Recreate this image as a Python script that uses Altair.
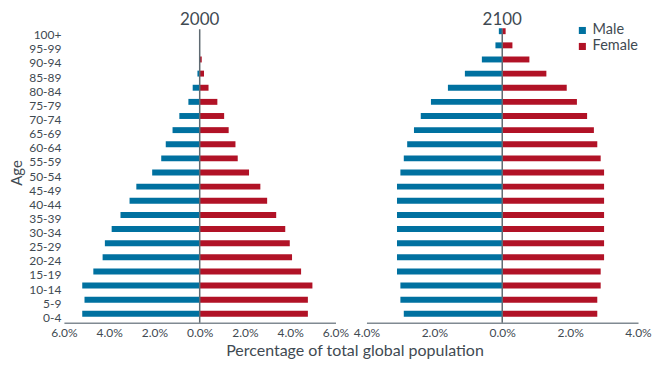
import altair as alt
import pandas as pd

ages = ["0-4", "5-9", "10-14", "15-19", "20-24", "25-29", "30-34", "35-39",
        "40-44", "45-49", "50-54", "55-59", "60-64", "65-69", "70-74", "75-79",
        "80-84", "85-89", "90-94", "95-99", "100+"]

male_2000 = [5.19, 5.09, 5.19, 4.70, 4.29, 4.19, 3.89, 3.50, 3.10, 2.80, 2.10,
             1.70, 1.50, 1.20, 0.90, 0.50, 0.31, 0.10, 0.00, 0.00, 0.00]
female_2000 = [4.78, 4.78, 4.98, 4.48, 4.08, 3.98, 3.78, 3.38, 2.98, 2.68, 2.18,
               1.68, 1.58, 1.28, 1.08, 0.78, 0.39, 0.19, 0.09, 0.00, 0.00]
male_2100 = [2.9, 3.0, 3.0, 3.1, 3.1, 3.1, 3.1, 3.1, 3.1, 3.1, 3.0,
             2.9, 2.8, 2.6, 2.4, 2.1, 1.6, 1.1, 0.6, 0.2, 0.1]
female_2100 = [2.8, 2.8, 2.9, 2.9, 3.0, 3.0, 3.0, 3.0, 3.0, 3.0, 3.0,
               2.9, 2.8, 2.7, 2.5, 2.2, 1.9, 1.3, 0.8, 0.3, 0.1]

years = ["2000", "2100"]
sexes = ["Male", "Female"]
colors = ["#0071a0", "#b11226"]
FONT = "Lato"
TEXT = "#3f4a52"
AXISC = "#808a92"

W = 272
H = 315

order_desc = ages[::-1]


def make_df(m, f):
    rows = []
    for a, v in zip(ages, m):
        rows.append({"age": a, "sex": "Male", "value": -v})
    for a, v in zip(ages, f):
        rows.append({"age": a, "sex": "Female", "value": v})
    return pd.DataFrame(rows)


def panel(year, m, f, lim, ticks, left):
    df = make_df(m, f)
    if left:
        yaxis = alt.Axis(title="Age", ticks=False, domain=False, labelFontSize=12,
                         labelColor=TEXT, labelFont=FONT, labelPadding=3, labelOffset=4,
                         titleFont=FONT, titleFontSize=15, titleColor=TEXT,
                         titleFontWeight="normal", titlePadding=4)
        xtitle = "Percentage of total global population"
        legend = None
    else:
        yaxis = None
        xtitle = None
        legend = alt.Legend(title=None, orient="none", legendX=209, legendY=15,
                            symbolType="square", symbolSize=50, symbolStrokeWidth=0,
                            labelFontSize=14.5, labelFont=FONT, labelColor=TEXT,
                            labelOffset=3, rowPadding=1, symbolOpacity=1)
    xaxis_kwargs = dict(values=ticks, labelExpr="format(abs(datum.value), '.1f') + '%'",
                        grid=False, ticks=False, domainColor=AXISC, domainWidth=1.5,
                        labelFontSize=12, labelFont=FONT, labelColor=TEXT, labelPadding=5,
                        labelFlush=False, title=xtitle)
    if left:
        xaxis_kwargs.update(titleX=291, titleAlign="center", titleFont=FONT,
                            titleFontSize=16, titleColor=TEXT, titleFontWeight="normal",
                            titlePadding=4)
    bars = alt.Chart(df).mark_bar().encode(
        x=alt.X("value:Q", scale=alt.Scale(domain=[-lim, lim], nice=False),
                axis=alt.Axis(**xaxis_kwargs)),
        y=alt.Y("age:N", sort=order_desc,
                scale=alt.Scale(range=[15.9, 313.1], paddingInner=0.58, paddingOuter=0.29),
                axis=yaxis),
        color=alt.Color("sex:N", scale=alt.Scale(domain=sexes, range=colors), legend=legend),
    )
    rule = alt.Chart(pd.DataFrame({"z": [0]})).mark_rule(color="#5f6a72", strokeWidth=1.5).encode(
        x=alt.X("z:Q"), y=alt.value(21), y2=alt.value(H)
    )
    title = alt.Chart(pd.DataFrame({"t": [year]})).mark_text(
        baseline="top", align="center", fontSize=17, font=FONT, color=TEXT
    ).encode(text="t:N", x=alt.value(W / 2), y=alt.value(4))
    return alt.layer(bars, rule, title).properties(width=W, height=H)


left = panel(years[0], male_2000, female_2000, 6, [-6, -4, -2, 0, 2, 4, 6], True)
right = panel(years[1], male_2100, female_2100, 4, [-4, -2, 0, 2, 4], False)

chart = alt.hconcat(left, right, spacing=31, bounds="flush").resolve_scale(
    color="independent", x="independent", y="independent"
).configure_view(stroke=None).properties(
    padding={"left": 1, "top": 0, "right": 0, "bottom": 0}
)

chart.save("out.html", embed_options={"renderer": "svg", "actions": False})
